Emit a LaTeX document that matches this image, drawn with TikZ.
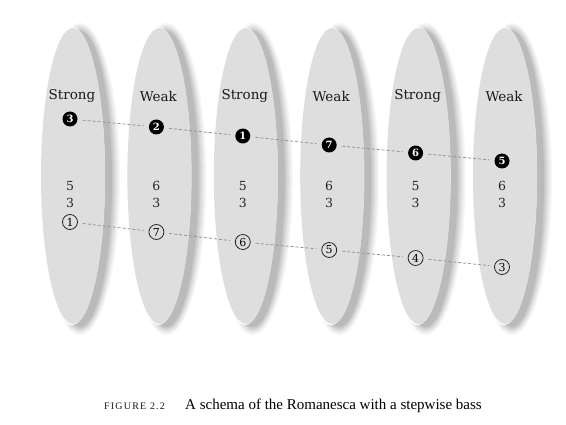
\documentclass[tikz,border=0pt]{standalone}
\usepackage{fontspec}
\setmainfont{DejaVu Serif}
\newfontfamily\capfont{Liberation Serif}
\newfontfamily\scfont[LetterSpace=12]{Liberation Serif}
\usetikzlibrary{positioning}
\definecolor{pod}{HTML}{DEDEDE}
\definecolor{dashgray}{HTML}{959595}
\tikzset{
  blackdot/.style={circle, fill=black, text=white, inner sep=0pt, minimum size=15pt,
    font=\fontsize{10}{10}\selectfont\bfseries},
  opendot/.style={circle, draw=black!85, line width=0.8pt, inner sep=0pt, minimum size=15pt,
    font=\fontsize{11}{11}\selectfont},
  beatlabel/.style={font=\fontsize{13.5}{13.5}\selectfont, text=black!90},
  figlabel/.style={font=\fontsize{12.5}{12.5}\selectfont, text=black!85},
  link/.style={dashgray, dash pattern=on 3pt off 2pt, line width=0.8pt, shorten >=5pt, shorten <=5pt},
}
\begin{document}
\begin{tikzpicture}[x=1pt,y=-1pt]
\useasboundingbox[fill=white] (0,0) rectangle (566,425);
% ellipses with soft shadows
\foreach \cx in {73,159.4,245.8,332.2,418.6,505}{
  \foreach \d/\op in {8/0.04,6/0.05,4/0.06,2/0.07,0/0.08}{
    \fill[black, opacity=\op] (\cx+7,179) ellipse [x radius=32+\d, y radius=148+\d];
  }
  \fill[white] (\cx-1,176) ellipse [x radius=33, y radius=149];
  \fill[pod] (\cx,176) ellipse [x radius=32, y radius=148];
}
% labels
\foreach \x/\t [count=\i] in {70/Strong,156.4/Weak,242.8/Strong,329.2/Weak,415.6/Strong,502/Weak}{
  \node[beatlabel] (lab\i) at (\x+2,96) {\t};
}
% figures
\foreach \x/\t [count=\i] in {70/5,156.4/6,242.8/5,329.2/6,415.6/5,502/6}{
  \node[figlabel] (fa\i) at (\x,186) {\t};
  \node[figlabel] (fb\i) at (\x,203) {3};
}
% melody (black)
\node[blackdot] (m1) at (70,119) {3};
\node[blackdot] (m2) at (156.4,127) {2};
\node[blackdot] (m3) at (242.8,136) {1};
\node[blackdot] (m4) at (329.2,145) {7};
\node[blackdot] (m5) at (415.6,153) {6};
\node[blackdot] (m6) at (502,161) {5};
% bass (open)
\node[opendot] (b1) at (70,222) {1};
\node[opendot] (b2) at (156.4,232) {7};
\node[opendot] (b3) at (242.8,242) {6};
\node[opendot] (b4) at (329.2,250) {5};
\node[opendot] (b5) at (415.6,258) {4};
\node[opendot] (b6) at (502,267) {3};
\foreach \a/\b in {1/2,2/3,3/4,4/5,5/6}{
  \draw[link] (m\a) -- (m\b);
  \draw[link] (b\a) -- (b\b);
}
% caption
\node[anchor=west, inner sep=0pt, font=\scfont\fontsize{10}{10}\selectfont, text=black!90] (fig) at (104,406) {FIGURE 2.2};
\node[anchor=west, inner sep=0pt, font=\capfont\fontsize{15}{15}\selectfont] (cap) at (185,406) {A schema of the Romanesca with a stepwise bass};
\end{tikzpicture}
\end{document}
